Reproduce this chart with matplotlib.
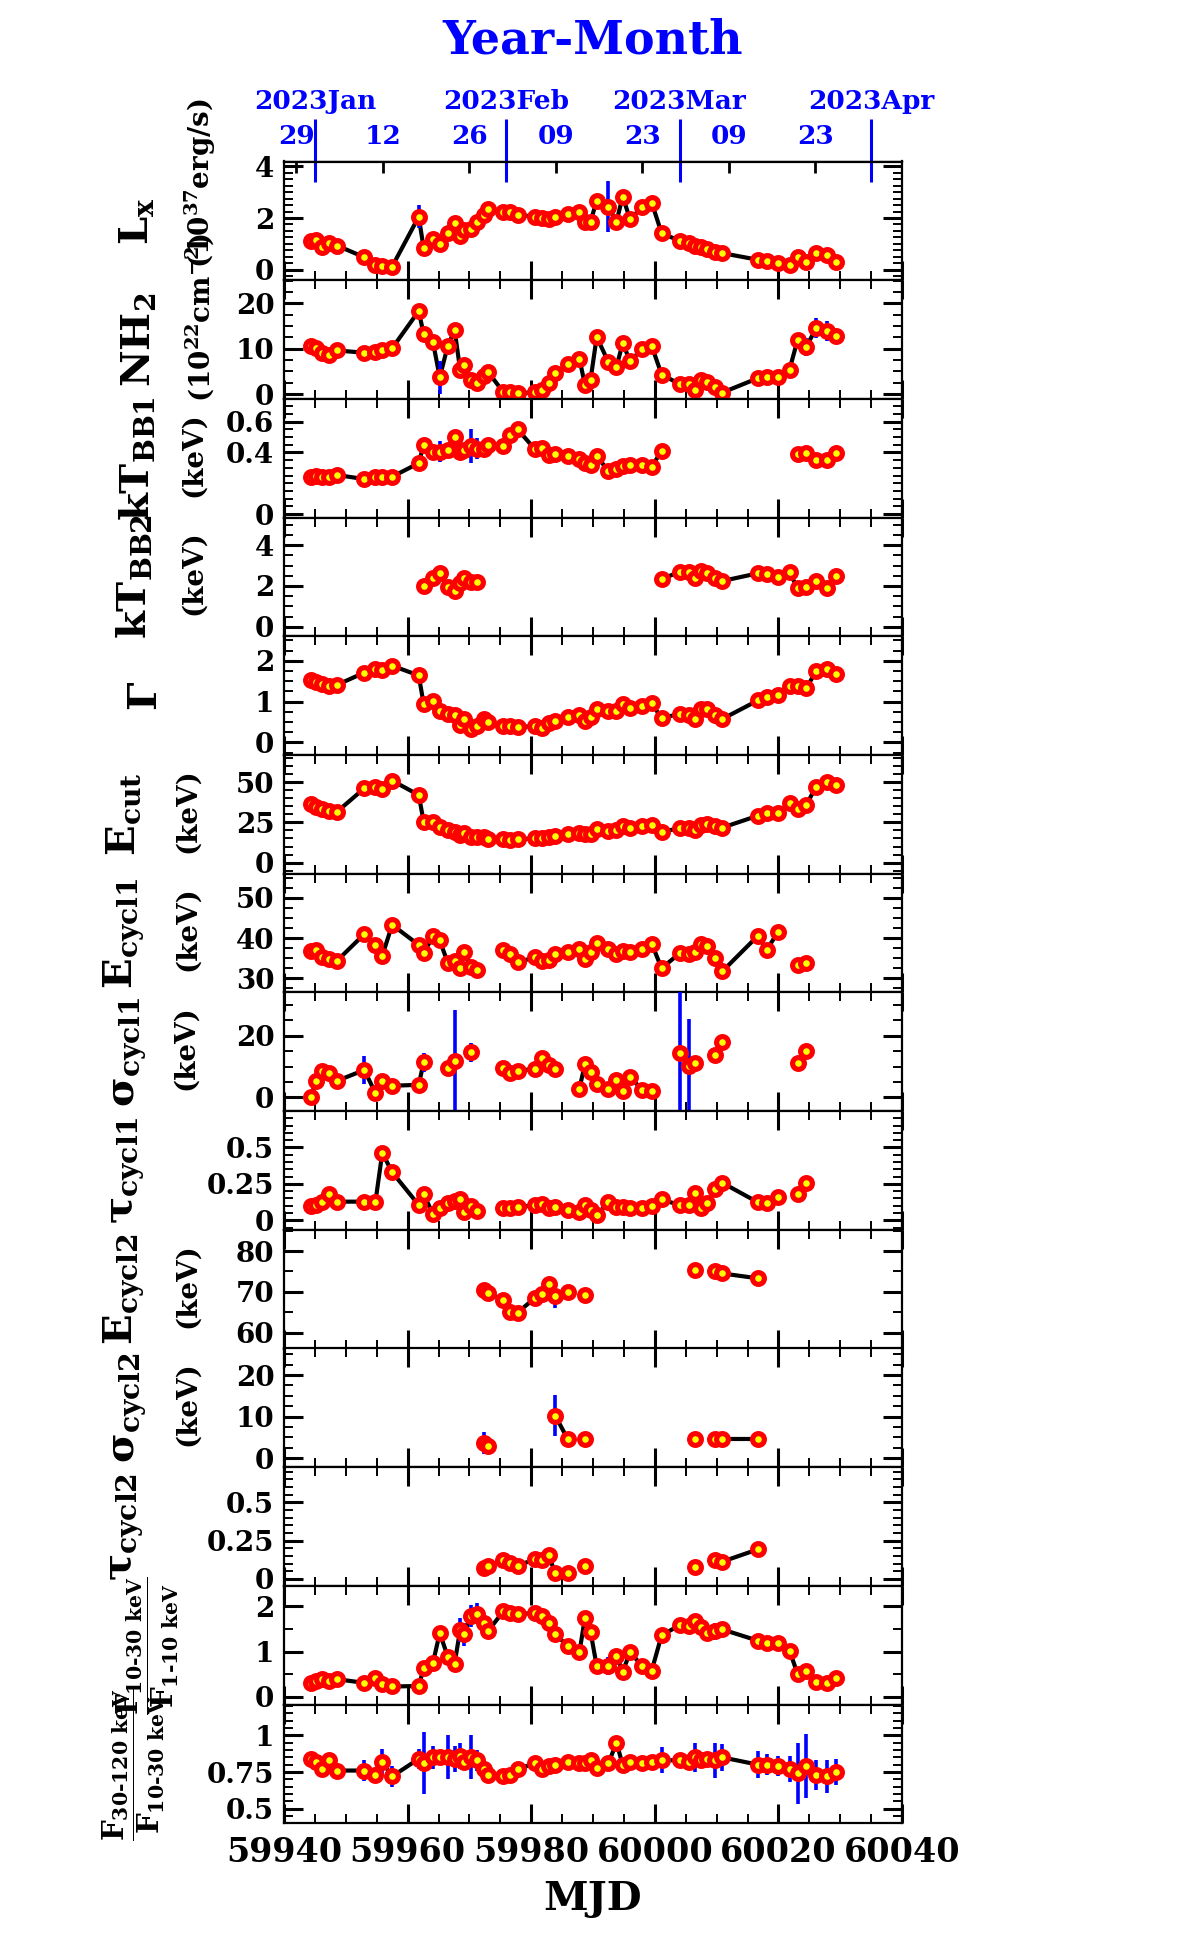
import numpy as np
import matplotlib
matplotlib.use('Agg')
import matplotlib.pyplot as plt
from matplotlib.ticker import MultipleLocator, FuncFormatter

nan = np.nan

# observation times (MJD)
mjd = [59944.3, 59945.2, 59946.2, 59947.3, 59948.6, 59953.0, 59954.8, 59955.9, 59957.5, 59961.8,
       59962.6, 59964.1, 59965.2, 59966.5, 59967.6, 59968.5, 59969.1, 59970.2, 59971.2, 59972.3,
       59973.0, 59975.5, 59976.6, 59977.8, 59980.6, 59981.8, 59982.8, 59983.9, 59985.9, 59987.8,
       59988.7, 59989.6, 59990.6, 59992.5, 59993.8, 59994.8, 59996.0, 59998.0, 59999.5, 60001.1,
       60004.0, 60005.6, 60006.5, 60007.4, 60008.5, 60009.8, 60010.9, 60016.7, 60018.1, 60020.0,
       60021.8, 60023.1, 60024.5, 60026.1, 60027.9, 60029.4]

lx = [1.12, 1.15, 0.89, 1.02, 0.93, 0.48, 0.16, 0.14, 0.12, 2.05,
      0.83, 1.18, 1.00, 1.41, 1.80, 1.31, 1.54, 1.57, 1.86, 2.12,
      2.34, 2.24, 2.22, 2.12, 2.05, 1.99, 1.97, 2.03, 2.16, 2.24,
      1.86, 1.86, 2.67, 2.44, 1.86, 2.83, 1.95, 2.44, 2.60, 1.41,
      1.12, 1.02, 0.92, 0.87, 0.79, 0.70, 0.64, 0.38, 0.34, 0.25,
      0.16, 0.47, 0.31, 0.64, 0.57, 0.31]
lx_err = [0.05, 0.05, 0.05, 0.05, 0.05, 0.05, 0.05, 0.05, 0.05, 0.45,
          0.05, 0.05, 0.05, 0.05, 0.05, 0.05, 0.05, 0.05, 0.05, 0.05,
          0.05, 0.05, 0.05, 0.05, 0.05, 0.05, 0.05, 0.05, 0.05, 0.05,
          0.05, 0.05, 0.05, 1.0, 0.05, 0.05, 0.05, 0.05, 0.05, 0.05,
          0.05, 0.05, 0.05, 0.05, 0.05, 0.05, 0.05, 0.05, 0.05, 0.05,
          0.05, 0.05, 0.05, 0.05, 0.05, 0.05]

nh = [10.6, 10.1, 9.1, 8.6, 9.6, 9.1, 9.3, 9.6, 10.1, 18.3,
      13.2, 11.5, 3.7, 10.6, 14.1, 5.4, 6.5, 3.1, 2.5, 4.0,
      4.9, 0.4, 0.4, 0.15, 0.4, 0.9, 2.4, 4.6, 6.6, 7.8,
      2.0, 3.1, 12.6, 7.0, 6.0, 11.2, 7.3, 9.9, 10.6, 4.3,
      2.2, 2.2, 0.9, 3.1, 2.6, 1.6, 0.3, 3.5, 3.8, 3.7,
      5.4, 11.9, 10.4, 14.5, 13.9, 12.8]
nh_err = [0.5, 0.5, 0.5, 0.5, 0.5, 0.5, 0.5, 0.5, 0.5, 0.5,
          0.5, 0.5, 3.6, 0.5, 0.5, 0.5, 0.5, 0.5, 0.5, 0.5,
          0.5, 0.5, 0.5, 0.5, 0.5, 0.5, 0.5, 0.5, 0.5, 0.5,
          0.5, 0.5, 0.5, 0.5, 0.5, 0.5, 0.5, 0.5, 0.5, 0.5,
          0.5, 0.5, 0.5, 0.5, 0.5, 0.5, 0.5, 0.5, 0.5, 0.5,
          0.5, 1.5, 2.0, 2.2, 2.2, 0.5]

ktbb1 = [0.242, 0.247, 0.242, 0.242, 0.253, 0.227, 0.242, 0.242, 0.242, 0.33,
         0.45, 0.405, 0.405, 0.415, 0.50, 0.405, 0.415, 0.44, 0.425, 0.425,
         0.45, 0.44, 0.51, 0.55, 0.42, 0.43, 0.38, 0.39, 0.375, 0.36,
         0.333, 0.32, 0.375, 0.28, 0.29, 0.31, 0.32, 0.318, 0.307, 0.41,
         nan, nan, nan, nan, nan, nan, nan, nan, nan, nan,
         nan, 0.387, 0.398, 0.35, 0.35, 0.394]
ktbb1_err = [0.01, 0.01, 0.01, 0.01, 0.01, 0.01, 0.01, 0.01, 0.01, 0.01,
             0.03, 0.01, 0.07, 0.01, 0.01, 0.01, 0.01, 0.11, 0.07, 0.01,
             0.01, 0.01, 0.01, 0.01, 0.01, 0.01, 0.01, 0.01, 0.01, 0.01,
             0.01, 0.01, 0.01, 0.01, 0.01, 0.01, 0.01, 0.01, 0.01, 0.01,
             0.01, 0.01, 0.01, 0.01, 0.01, 0.01, 0.01, 0.01, 0.01, 0.01,
             0.01, 0.01, 0.01, 0.01, 0.01, 0.01]

ktbb2 = [nan, nan, nan, nan, nan, nan, nan, nan, nan, nan,
         2.0, 2.40, 2.62, 1.93, 1.75, 2.13, 2.37, 2.21, 2.21, nan,
         nan, nan, nan, nan, nan, nan, nan, nan, nan, nan,
         nan, nan, nan, nan, nan, nan, nan, nan, nan, 2.32,
         2.70, 2.70, 2.37, 2.73, 2.62, 2.37, 2.24, 2.62, 2.58, 2.45,
         2.67, 1.88, 1.93, 2.24, 1.88, 2.50]

gamma = [1.53, 1.47, 1.43, 1.37, 1.41, 1.71, 1.79, 1.78, 1.88, 1.64,
         0.94, 1.02, 0.77, 0.70, 0.67, 0.43, 0.58, 0.33, 0.40, 0.57,
         0.49, 0.40, 0.39, 0.37, 0.40, 0.36, 0.47, 0.53, 0.62, 0.67,
         0.53, 0.62, 0.82, 0.76, 0.76, 0.94, 0.84, 0.89, 0.96, 0.59,
         0.70, 0.67, 0.57, 0.82, 0.82, 0.67, 0.57, 1.03, 1.11, 1.16,
         1.38, 1.38, 1.33, 1.74, 1.79, 1.68]

ecut = [36.4, 34.8, 33.1, 32.1, 31.7, 46.2, 47.0, 45.5, 51.0, 42.0,
        25.5, 25.5, 22.3, 20.3, 19.2, 17.2, 18.2, 15.7, 15.7, 15.7,
        14.5, 14.5, 14.1, 14.5, 15.1, 15.1, 16.1, 16.7, 17.8, 18.6,
        17.8, 17.8, 20.9, 19.9, 20.3, 22.8, 21.3, 22.8, 23.4, 19.2,
        21.3, 21.3, 20.3, 23.4, 24.0, 22.8, 21.7, 29.2, 30.6, 30.6,
        36.9, 33.1, 35.8, 47.2, 49.9, 48.3]

ecyc1 = [36.8, 37.1, 35.2, 34.7, 34.4, 41.0, 38.2, 35.6, 43.3, 38.3,
         36.2, 40.5, 39.4, 33.9, 34.4, 32.5, 36.6, 32.9, 32.1, nan,
         nan, 37.1, 36.1, 34.0, 35.2, 34.2, 34.6, 36.1, 36.6, 37.3,
         34.7, 36.6, 38.7, 37.2, 36.1, 36.8, 36.5, 37.2, 38.6, 32.5,
         36.2, 36.1, 36.6, 38.6, 38.1, 35.0, 31.7, 40.6, 37.1, 41.6,
         nan, 33.3, 33.9, nan, nan, nan]

sig1 = [0.0, 5.4, 8.7, 7.8, 5.4, 8.9, 1.4, 5.4, 3.8, 4.1,
        11.4, nan, nan, 9.5, 11.8, nan, nan, 14.6, nan, nan,
        nan, 9.5, 8.0, 8.7, 9.2, 12.7, 10.5, 9.1, nan, 2.8,
        10.9, 8.4, 4.3, 2.8, 5.5, 2.2, 6.5, 2.5, 2.2, nan,
        14.3, 10.2, 11.1, nan, nan, 13.8, 17.8, nan, nan, nan,
        nan, 11.3, 14.9, nan, nan, nan]
sig1_err = [1.0, 1.0, 1.0, 1.0, 1.0, 4.6, 1.0, 1.0, 1.0, 1.0,
            3.0, 1.0, 1.0, 1.0, 16.5, 1.0, 1.0, 3.0, 1.0, 1.0,
            1.0, 1.0, 1.0, 1.0, 1.0, 1.0, 1.0, 1.0, 1.0, 1.0,
            1.0, 1.0, 1.0, 1.0, 1.0, 1.0, 1.0, 1.0, 1.0, 1.0,
            20.0, 15.1, 1.0, 1.0, 1.0, 1.0, 1.0, 1.0, 1.0, 1.0,
            1.0, 1.0, 2.0, 1.0, 1.0, 1.0]

tau1 = [0.098, 0.105, 0.128, 0.18, 0.128, 0.128, 0.128, 0.463, 0.33, 0.105,
        0.18, 0.043, 0.082, 0.116, 0.134, 0.143, 0.059, 0.098, 0.066, nan,
        nan, 0.082, 0.082, 0.089, 0.105, 0.111, 0.082, 0.089, 0.070, 0.059,
        0.105, 0.070, 0.036, 0.123, 0.089, 0.089, 0.082, 0.082, 0.098, 0.143,
        0.105, 0.105, 0.189, 0.082, 0.116, 0.212, 0.258, 0.123, 0.116, 0.157,
        nan, 0.18, 0.258, nan, nan, nan]

ecyc2 = [nan, nan, nan, nan, nan, nan, nan, nan, nan, nan,
         nan, nan, nan, nan, nan, nan, nan, nan, nan, 70.4,
         69.6, 68.1, 65.1, 64.9, 68.5, 69.4, 71.8, 68.9, 70.0, nan,
         69.2, nan, nan, nan, nan, nan, nan, nan, nan, nan,
         nan, nan, 75.3, nan, nan, 75.1, 74.5, 73.3, nan, nan,
         nan, nan, nan, nan, nan, nan]
ecyc2_err = [0.5, 0.5, 0.5, 0.5, 0.5, 0.5, 0.5, 0.5, 0.5, 0.5,
             0.5, 0.5, 0.5, 0.5, 0.5, 0.5, 0.5, 0.5, 0.5, 0.5,
             0.5, 0.5, 0.5, 0.5, 0.5, 0.5, 0.5, 2.9, 0.5, 0.5,
             0.5, 0.5, 0.5, 0.5, 0.5, 0.5, 0.5, 0.5, 0.5, 0.5,
             0.5, 0.5, 0.5, 0.5, 0.5, 0.5, 0.5, 0.5, 0.5, 0.5,
             0.5, 0.5, 0.5, 0.5, 0.5, 0.5]

sig2 = [nan, nan, nan, nan, nan, nan, nan, nan, nan, nan,
        nan, nan, nan, nan, nan, nan, nan, nan, nan, 3.7,
        2.9, nan, nan, nan, nan, nan, nan, 10.2, 4.6, nan,
        4.6, nan, nan, nan, nan, nan, nan, nan, nan, nan,
        nan, nan, 4.6, nan, nan, 4.6, 4.6, 4.6, nan, nan,
        nan, nan, nan, nan, nan, nan]
sig2_err = [0.5, 0.5, 0.5, 0.5, 0.5, 0.5, 0.5, 0.5, 0.5, 0.5,
            0.5, 0.5, 0.5, 0.5, 0.5, 0.5, 0.5, 0.5, 0.5, 2.7,
            0.5, 0.5, 0.5, 0.5, 0.5, 0.5, 0.5, 4.9, 0.5, 0.5,
            0.5, 0.5, 0.5, 0.5, 0.5, 0.5, 0.5, 0.5, 0.5, 0.5,
            0.5, 0.5, 0.5, 0.5, 0.5, 0.5, 0.5, 0.5, 0.5, 0.5,
            0.5, 0.5, 0.5, 0.5, 0.5, 0.5]

tau2 = [nan, nan, nan, nan, nan, nan, nan, nan, nan, nan,
        nan, nan, nan, nan, nan, nan, nan, nan, nan, 0.069,
        0.084, 0.123, 0.102, 0.086, 0.128, 0.123, 0.156, 0.037, 0.037, nan,
        0.086, nan, nan, nan, nan, nan, nan, nan, nan, nan,
        nan, nan, 0.080, nan, nan, 0.123, 0.112, 0.193, nan, nan,
        nan, nan, nan, nan, nan, nan]

ratio1 = [0.31, 0.34, 0.40, 0.36, 0.39, 0.31, 0.41, 0.28, 0.23, 0.24,
          0.63, 0.75, 1.41, 0.89, 0.73, 1.48, 1.38, 1.78, 1.84, 1.64,
          1.45, 1.89, 1.85, 1.83, 1.85, 1.78, 1.64, 1.38, 1.13, 0.98,
          1.75, 1.44, 0.68, 0.68, 0.91, 0.56, 0.98, 0.68, 0.58, 1.36,
          1.58, 1.56, 1.67, 1.55, 1.40, 1.45, 1.49, 1.24, 1.19, 1.19,
          1.02, 0.51, 0.58, 0.33, 0.31, 0.41]
ratio1_err = [0.05, 0.05, 0.05, 0.05, 0.05, 0.05, 0.05, 0.05, 0.05, 0.05,
              0.05, 0.05, 0.16, 0.05, 0.05, 0.26, 0.26, 0.24, 0.24, 0.05,
              0.05, 0.05, 0.05, 0.05, 0.05, 0.05, 0.05, 0.05, 0.05, 0.05,
              0.05, 0.05, 0.05, 0.20, 0.05, 0.05, 0.05, 0.05, 0.05, 0.05,
              0.05, 0.05, 0.05, 0.05, 0.05, 0.19, 0.05, 0.05, 0.05, 0.05,
              0.05, 0.05, 0.13, 0.05, 0.05, 0.05]

ratio2 = [0.84, 0.82, 0.77, 0.83, 0.76, 0.76, 0.73, 0.82, 0.72, 0.84,
          0.81, 0.85, 0.85, 0.85, 0.84, 0.86, 0.82, 0.85, 0.83, 0.77,
          0.73, 0.72, 0.73, 0.77, 0.81, 0.77, 0.79, 0.80, 0.82, 0.81,
          0.81, 0.83, 0.78, 0.81, 0.95, 0.80, 0.82, 0.81, 0.82, 0.83,
          0.83, 0.82, 0.85, 0.83, 0.84, 0.83, 0.85, 0.80, 0.80, 0.79,
          0.77, 0.74, 0.79, 0.73, 0.72, 0.75]
ratio2_err = [0.02, 0.02, 0.02, 0.02, 0.02, 0.07, 0.04, 0.09, 0.07, 0.07,
              0.21, 0.08, 0.05, 0.15, 0.09, 0.09, 0.05, 0.15, 0.07, 0.03,
              0.03, 0.02, 0.02, 0.02, 0.02, 0.02, 0.02, 0.02, 0.02, 0.02,
              0.02, 0.02, 0.02, 0.02, 0.02, 0.02, 0.02, 0.02, 0.02, 0.09,
              0.03, 0.03, 0.10, 0.04, 0.04, 0.12, 0.09, 0.09, 0.07, 0.07,
              0.09, 0.21, 0.22, 0.10, 0.11, 0.09]

# top axis: calendar labels
day_mjd = [59942, 59956, 59970, 59984, 59998, 60012, 60026]
day_labels = ['29', '12', '26', '09', '23', '09', '23']
month_mjd = [59945, 59976, 60004, 60035]
month_labels = ['2023Jan', '2023Feb', '2023Mar', '2023Apr']

names = [r'$L_x$', r'$NH_2$', r'$kT_{BB1}$', r'$kT_{BB2}$', r'$\Gamma$', r'$E_{cut}$',
         r'$E_{cycl1}$', r'$\sigma_{cycl1}$', r'$\tau_{cycl1}$', r'$E_{cycl2}$',
         r'$\sigma_{cycl2}$', r'$\tau_{cycl2}$',
         r'$\dfrac{F_{\text{10-30 keV}}}{F_{\text{1-10 keV}}}$',
         r'$\dfrac{F_{\text{30-120 keV}}}{F_{\text{10-30 keV}}}$']
units = [r'(10$^{37}$erg/s)', r'(10$^{22}$cm$^{-2}$)', '(keV)', '(keV)', None, '(keV)',
         '(keV)', '(keV)', None, '(keV)', '(keV)', None, None, None]

plt.rcParams['font.family'] = 'DejaVu Serif'
plt.rcParams['font.weight'] = 'bold'
plt.rcParams['axes.labelweight'] = 'bold'
plt.rcParams['mathtext.fontset'] = 'custom'
plt.rcParams['mathtext.rm'] = 'DejaVu Serif:bold'
plt.rcParams['mathtext.it'] = 'DejaVu Serif:bold'
plt.rcParams['mathtext.bf'] = 'DejaVu Serif:bold'
plt.rcParams['mathtext.default'] = 'rm'

W, H = 1190, 1937
TOP, PH = 161.5, 118.7  # pixel top of first panel, panel height

fig, axes = plt.subplots(14, 1, figsize=(W / 100, H / 100), dpi=100, sharex=True,
                         gridspec_kw={'hspace': 0})
fig.subplots_adjust(left=284 / W, right=902 / W, top=1 - TOP / H, bottom=1 - (TOP + 14 * PH) / H)

# series, errors, ylim, major ticks, minor step
panels = [
    (lx, lx_err, (-0.41, 4.19), [0, 2, 4], 0.25),
    (nh, nh_err, (-1.08, 25.1), [0, 10, 20], 2.5),
    (ktbb1, ktbb1_err, (-0.023, 0.747), [0, 0.4, 0.6], 0.05),
    (ktbb2, None, (-0.47, 5.35), [0, 2, 4], 0.5),
    (gamma, None, (-0.31, 2.60), [0, 1, 2], 0.25),
    (ecut, None, (-6.9, 66.9), [0, 25, 50], 5),
    (ecyc1, None, (26.5, 56.0), [30, 40, 50], 2.5),
    (sig1, sig1_err, (-4.4, 34.0), [0, 20], 5),
    (tau1, None, (-0.065, 0.749), [0, 0.25, 0.5], 0.05),
    (ecyc2, ecyc2_err, (56.1, 85.2), [60, 70, 80], 5),
    (sig2, sig2_err, (-2.2, 26.4), [0, 10, 20], 2.5),
    (tau2, None, (-0.046, 0.729), [0, 0.25, 0.5], 0.05),
    (ratio1, ratio1_err, (-0.17, 2.45), [0, 1, 2], 0.5),
    (ratio2, ratio2_err, (0.40, 1.21), [0.5, 0.75, 1], 0.05),
]

fmt = FuncFormatter(lambda v, p: f'{v:g}')

for ax, (vals, err, ylim, ticks, minor) in zip(axes, panels):
    y = np.array(vals, dtype=float)
    ax.plot(mjd, y, '-', color='black', lw=3.0, zorder=2)
    if err is not None:
        ax.errorbar(mjd, y, yerr=err, fmt='none', ecolor='blue', elinewidth=2.6,
                    capsize=0, zorder=3)
    ax.plot(mjd, y, 'o', ls='none', ms=8.5, mfc='yellow', mec='red', mew=3.7, zorder=4)
    ax.set_ylim(*ylim)
    ax.set_yticks(ticks)
    ax.yaxis.set_minor_locator(MultipleLocator(minor))
    ax.yaxis.set_major_formatter(fmt)
    ax.tick_params(axis='both', which='major', direction='in', length=13.5, width=2.2,
                   top=True, bottom=True, left=True, right=True, labelsize=20, pad=7)
    ax.tick_params(axis='both', which='minor', direction='in', length=6.5, width=1.4,
                   top=True, bottom=True, left=True, right=True)
    for s in ax.spines.values():
        s.set_linewidth(1.6)

ax0 = axes[0]
ax0.set_xlim(59940, 60040)
ax0.xaxis.set_major_locator(MultipleLocator(20))
ax0.xaxis.set_minor_locator(MultipleLocator(5))
ax0.tick_params(axis='x', which='both', top=False)

axes[-1].tick_params(axis='x', which='major', labelsize=24, pad=9)
axes[-1].set_xlabel('MJD', fontsize=29, fontweight='bold', labelpad=8)

# day ticks along the top
sec_day = ax0.secondary_xaxis('top')
sec_day.set_xticks(day_mjd, day_labels)
sec_day.tick_params(direction='in', length=8.5, width=2.0, color='black',
                    labelcolor='blue', labelsize=19, pad=9)

# month marks above the top axis
sec_mon = ax0.secondary_xaxis('top')
sec_mon.set_xticks(month_mjd, month_labels)
sec_mon.tick_params(direction='out', length=30, width=2.2, color='blue',
                    labelcolor='blue', labelsize=19, pad=4.5)
sec_mon_in = ax0.secondary_xaxis('top')
sec_mon_in.set_xticks(month_mjd, [''] * len(month_mjd))
sec_mon_in.tick_params(direction='in', length=14.8, width=2.2, color='blue')

fig.text(593 / W, 1 - 41 / H, 'Year-Month', color='blue', fontsize=33,
         ha='center', va='center', fontweight='bold')

# y labels: quantity names and units
name_x = [136, 138, 137, 134, 146, 124, 124, 129, 127, 124, 129, 126, 148, 134]
name_size = [29] * 12 + [21, 21]
unit_x = [200, 200, 193, 193, None, 187, 187, 186, None, 187, 187, None, None, None]
unit_y = [183, 317, None, None, None, None, None, None, None, None, None, None, None, None]

for i in range(14):
    cy = TOP + PH * (i + 0.5)
    fig.text(name_x[i] / W, 1 - cy / H, names[i], fontsize=name_size[i], rotation=90,
             ha='center', va='center')
    if units[i] is not None:
        uy = unit_y[i] if unit_y[i] is not None else cy - 4
        fig.text(unit_x[i] / W, 1 - uy / H, units[i], fontsize=20, rotation=90,
                 ha='center', va='center')

fig.savefig('out.png', dpi=100)
